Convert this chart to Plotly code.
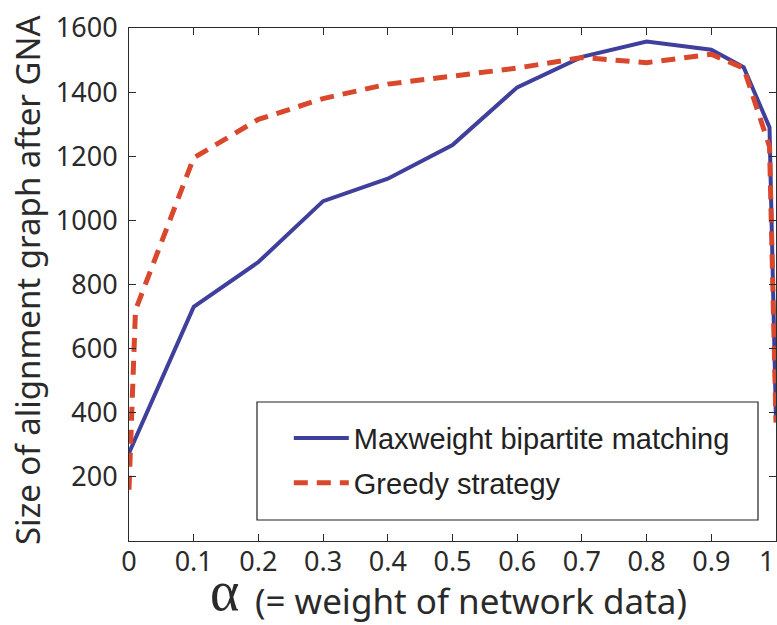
import plotly.graph_objects as go

# Data
alpha_max = [0.0, 0.1, 0.2, 0.3, 0.4, 0.5, 0.6, 0.7, 0.8, 0.9, 0.95, 0.99, 1.0]
size_max = [275, 730, 870, 1060, 1130, 1235, 1415, 1510, 1558, 1532, 1478, 1290, 370]

alpha_greedy = [0.0, 0.01, 0.1, 0.2, 0.3, 0.4, 0.5, 0.6, 0.7, 0.8, 0.9, 0.95, 0.99, 1.0]
size_greedy = [160, 720, 1195, 1315, 1380, 1425, 1450, 1475, 1508, 1492, 1518, 1475, 1230, 370]

x_ticks = [0, 0.1, 0.2, 0.3, 0.4, 0.5, 0.6, 0.7, 0.8, 0.9, 1]
x_tick_labels = ["0", "0.1", "0.2", "0.3", "0.4", "0.5", "0.6", "0.7", "0.8", "0.9", ""]
last_tick_label = "1"
y_ticks = [200, 400, 600, 800, 1000, 1200, 1400, 1600]

name_max = "Maxweight bipartite matching"
name_greedy = "Greedy strategy"

BLUE = "#3f3f9c"
RED = "#d9472c"
AXIS = "#2b2b2b"
TXT = "#2a2a2a"
TICKFONT = dict(family="Noto Sans", size=27, color=TXT)

fig = go.Figure()
fig.add_trace(go.Scatter(x=alpha_max, y=size_max, mode="lines", name=name_max,
                         legendgroup="a",
                         line=dict(color=BLUE, width=4)))
fig.add_trace(go.Scatter(x=alpha_greedy, y=size_greedy, mode="lines", name=name_greedy,
                         legendgroup="b",
                         line=dict(color=RED, width=5, dash="14px,9px")))

fig.update_layout(
    width=777, height=625,
    margin=dict(l=129, r=1, t=28, b=84),
    paper_bgcolor="white", plot_bgcolor="white",
    showlegend=True,
    legend=dict(x=0.247, y=0.25, xanchor="left", yanchor="top",
                bgcolor="rgba(0,0,0,0)", borderwidth=0,
                font=dict(family="Liberation Sans", size=29, color="#222222"),
                tracegroupgap=4, itemwidth=55),
    xaxis=dict(range=[0, 1], tickvals=x_ticks, ticktext=x_tick_labels,
               ticks="inside", ticklen=7, tickcolor=AXIS, showline=True,
               linecolor=AXIS, linewidth=1, mirror="ticks", showgrid=False,
               zeroline=False, tickfont=TICKFONT, ticklabelstandoff=-3),
    yaxis=dict(range=[0, 1600], tickvals=y_ticks,
               ticks="inside", ticklen=7, tickcolor=AXIS, showline=True,
               linecolor=AXIS, linewidth=1, mirror="ticks", showgrid=False,
               zeroline=False, tickfont=TICKFONT, ticklabelstandoff=5),
    shapes=[dict(type="rect", xref="paper", yref="paper",
                 x0=(257 - 129) / 647, x1=(758 - 129) / 647,
                 y0=(541 - 520) / 513, y1=(541 - 402) / 513,
                 line=dict(color="#222222", width=1.2), fillcolor="rgba(0,0,0,0)")],
    annotations=[
        dict(text="Size of alignment graph after GNA", textangle=-90,
             xref="paper", yref="paper", x=(27 - 129) / 647, y=(541 - 280) / 513,
             xanchor="center", yanchor="middle", showarrow=False,
             font=dict(family="Noto Sans", size=33, color=TXT)),
        dict(text="α", xref="paper", yref="paper",
             x=(224 - 129) / 647, y=(541 - 591) / 513,
             xanchor="center", yanchor="middle", showarrow=False,
             font=dict(family="Liberation Serif", size=56, color=TXT)),
        dict(text="(= weight of network data)", xref="paper", yref="paper",
             x=(471 - 129) / 647, y=(541 - 600) / 513,
             xanchor="center", yanchor="middle", showarrow=False,
             font=dict(family="Noto Sans", size=35, color=TXT)),
        dict(text=last_tick_label, xref="x", yref="paper",
             x=1, y=(541 - 560) / 513, xanchor="right", yanchor="middle",
             showarrow=False, font=TICKFONT),
    ],
)

fig.write_html("out.html")
